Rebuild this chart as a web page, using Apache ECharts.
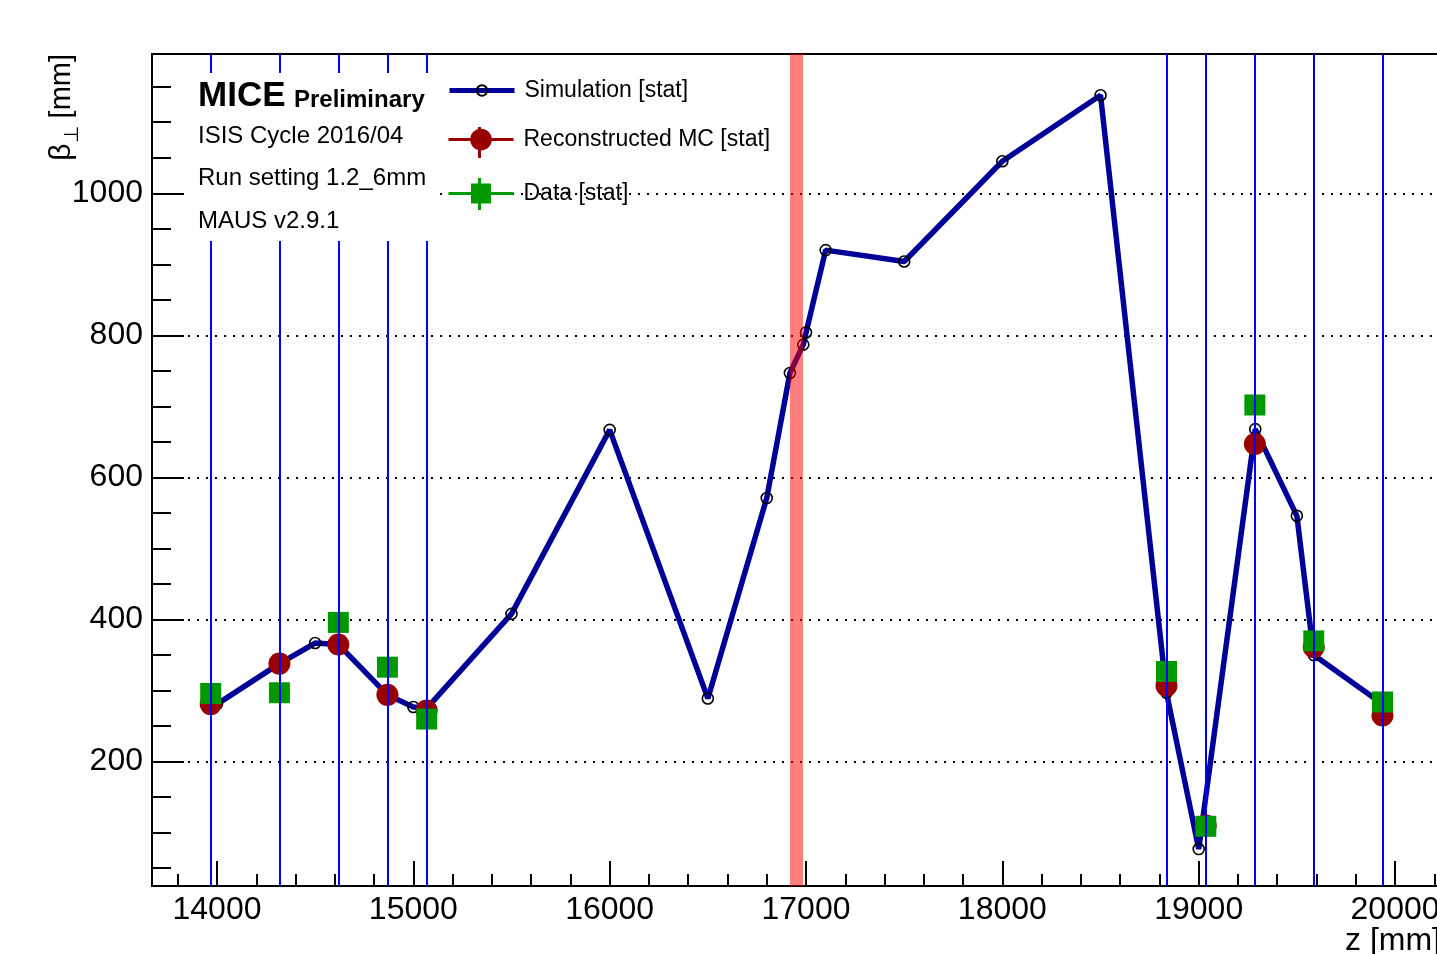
<!DOCTYPE html>
<html>
<head>
<meta charset="utf-8">
<script src="https://cdn.jsdelivr.net/npm/echarts@6/dist/echarts.min.js"></script>
<style>
  html, body { margin: 0; padding: 0; background: #fff; }
  #mainChart { width: 1437px; height: 954px; }
</style>
</head>
<body>
<div id="mainChart"></div>
<script>
// tracker stations (upstream + downstream)
var stationZ = [13968, 14318, 14618, 14868, 15068, 18836, 19036, 19286, 19586, 19936];
var recoBeta = [281, 338, 365, 294, 272, 307, 110, 647, 361, 265];
var dataBeta = [296, 297, 396, 333, 260, 327, 109, 702, 370, 284];

var simZ    = [14000, 14318, 14500, 14618, 14868, 15000, 15068, 15500, 16000, 16500, 16800, 16918, 16986, 17000, 17100, 17500, 18000, 18500, 18836, 19000, 19288, 19500, 19586, 19936];
var simBeta = [281, 338, 367, 365, 294, 277, 275, 408, 667, 289, 571, 747, 787, 804, 920, 904, 1045, 1138, 297, 77, 668, 546, 350, 281];

// absorber band
var absorberZ = [16918, 16985];

var majorX = [14000, 15000, 16000, 17000, 18000, 19000, 20000];
var minorX = [13800, 14200, 14400, 14600, 14800, 15200, 15400, 15600, 15800, 16200, 16400, 16600, 16800,
              17200, 17400, 17600, 17800, 18200, 18400, 18600, 18800, 19200, 19400, 19600, 19800, 20200];
var majorY = [200, 400, 600, 800, 1000];
var minorY = [50, 100, 150, 250, 300, 350, 450, 500, 550, 650, 700, 750, 850, 900, 950, 1050, 1100, 1150];

var legends = ['Simulation [stat]', 'Reconstructed MC [stat]', 'Data [stat]'];
var infoLines = ['ISIS Cycle 2016/04', 'Run setting 1.2_6mm', 'MAUS v2.9.1'];

var FONT = 'Liberation Sans';

function pairs(xs, ys) {
    var out = [];
    for (var i = 0; i < xs.length; i++) {
        out.push([xs[i], ys[i]]);
    }
    return out;
}

var myChart = echarts.init(document.getElementById('mainChart'));

var legendText = {fontSize: 23, fontFamily: FONT, color: '#000', padding: [0, 0, 0, 5]};

myChart.setOption({
    animation: false,
    grid: {
        left: 152, right: -4, top: 54, bottom: 68,
        outerBoundsMode: 'none',
        containLabel: false,
        show: true, borderColor: '#000', borderWidth: 2, backgroundColor: 'transparent'
    },
    legend: [{
        data: [legends[0]],
        left: 447, top: 79, padding: 0,
        itemWidth: 65, itemHeight: 13,
        lineStyle: {color: '#000099', width: 5, opacity: 1},
        textStyle: legendText
    }, {
        data: [legends[1]],
        left: 447, top: 128, padding: 0,
        itemWidth: 65, itemHeight: 27,
        lineStyle: {color: '#990000', width: 3, opacity: 1},
        textStyle: legendText
    }, {
        data: [legends[2]],
        left: 447, top: 182, padding: 0,
        itemWidth: 65, itemHeight: 25,
        lineStyle: {color: '#009900', width: 3, opacity: 1},
        textStyle: legendText
    }],
    xAxis: [{
        type: 'value',
        min: 13669, max: 20234,
        axisLine: {lineStyle: {color: '#000', width: 2}},
        axisTick: {customValues: majorX, inside: true, length: 25, lineStyle: {color: '#000', width: 2}},
        axisLabel: {customValues: majorX, fontSize: 32, fontFamily: FONT, color: '#000', margin: 8,
            formatter: function (v) { return String(v); }},
        splitLine: {show: false}
    }, {
        type: 'value',
        min: 13669, max: 20234,
        position: 'bottom',
        axisLine: {show: false},
        axisTick: {customValues: minorX, inside: true, length: 12, lineStyle: {color: '#000', width: 2}},
        axisLabel: {show: false},
        splitLine: {show: false}
    }],
    yAxis: [{
        type: 'value',
        min: 25, max: 1196,
        axisLine: {show: true, lineStyle: {color: '#000', width: 2}},
        axisTick: {show: true, customValues: majorY, inside: true, length: 32, lineStyle: {color: '#000', width: 2}},
        axisLabel: {customValues: majorY, fontSize: 32, fontFamily: FONT, color: '#000', margin: 9,
            formatter: function (v) { return String(v); }},
        splitLine: {show: true, lineStyle: {color: '#000', width: 2, type: [2, 7]}}
    }, {
        type: 'value',
        min: 25, max: 1196,
        position: 'left',
        axisLine: {show: false},
        axisTick: {show: true, customValues: minorY, inside: true, length: 19, lineStyle: {color: '#000', width: 2}},
        axisLabel: {show: false},
        splitLine: {show: false}
    }],
    series: [{
        name: legends[0],
        type: 'line',
        z: 2,
        symbol: 'circle',
        symbolSize: 11,
        itemStyle: {color: 'rgba(0,0,0,0)', borderColor: '#000', borderWidth: 1.6},
        lineStyle: {color: '#000099', width: 5.5},
        data: pairs(simZ, simBeta),
        markArea: {
            silent: true,
            z: 3,
            itemStyle: {color: 'rgba(255,0,0,0.5)'},
            data: [[{xAxis: absorberZ[0]}, {xAxis: absorberZ[1]}]]
        }
    }, {
        name: legends[1],
        type: 'line',
        z: 3,
        symbol: 'circle',
        symbolSize: 22,
        itemStyle: {color: '#990000'},
        lineStyle: {color: '#990000', width: 3, opacity: 0},
        data: pairs(stationZ, recoBeta)
    }, {
        name: legends[2],
        type: 'line',
        z: 4,
        symbol: 'rect',
        symbolSize: 21,
        itemStyle: {color: '#009900'},
        lineStyle: {color: '#009900', width: 3, opacity: 0},
        data: pairs(stationZ, dataBeta),
        markLine: {
            silent: true,
            symbol: 'none',
            label: {show: false},
            lineStyle: {color: '#0000ff', width: 2, type: 'solid'},
            data: stationZ.map(function (z) { return {xAxis: z}; })
        }
    }],
    graphic: [
        {type: 'rect', z: 100, shape: {x: 185, y: 73, width: 255, height: 168}, style: {fill: '#fff'}},
        {type: 'text', z: 101, x: 198, y: 96, style: {text: 'MICE', fontSize: 35, fontWeight: 'bold', fontFamily: FONT, fill: '#000', verticalAlign: 'middle'}},
        {type: 'text', z: 101, x: 294, y: 100, style: {text: 'Preliminary', fontSize: 24, fontWeight: 'bold', fontFamily: FONT, fill: '#000', verticalAlign: 'middle'}},
        {type: 'text', z: 101, x: 198, y: 136, style: {text: infoLines[0], fontSize: 24, fontFamily: FONT, fill: '#000', verticalAlign: 'middle'}},
        {type: 'text', z: 101, x: 198, y: 178, style: {text: infoLines[1], fontSize: 24, fontFamily: FONT, fill: '#000', verticalAlign: 'middle'}},
        {type: 'text', z: 101, x: 198, y: 221, style: {text: infoLines[2], fontSize: 24, fontFamily: FONT, fill: '#000', verticalAlign: 'middle'}},
        // legend error bars
        {type: 'line', z: 110, shape: {x1: 479.5, y1: 127, x2: 479.5, y2: 158}, style: {stroke: '#990000', lineWidth: 3}},
        {type: 'line', z: 110, shape: {x1: 479.5, y1: 178, x2: 479.5, y2: 210}, style: {stroke: '#009900', lineWidth: 3}},
        // x axis title
        {type: 'text', z: 101, x: 1441, y: 925, style: {text: 'z [mm]', fontSize: 32, fontFamily: FONT, fill: '#000', align: 'right', verticalAlign: 'top'}},
        // y axis title
        {type: 'text', z: 101, x: 62, y: 54, rotation: Math.PI / 2, style: {
            text: '{b|β}{s|⊥}{n| [mm]}',
            align: 'right', verticalAlign: 'middle', fill: '#000',
            rich: {
                b: {fontSize: 30, fontFamily: FONT},
                s: {fontSize: 20, fontFamily: FONT, padding: [20, 0, 0, 0]},
                n: {fontSize: 29, fontFamily: FONT}
            }
        }}
    ]
});
</script>
</body>
</html>
